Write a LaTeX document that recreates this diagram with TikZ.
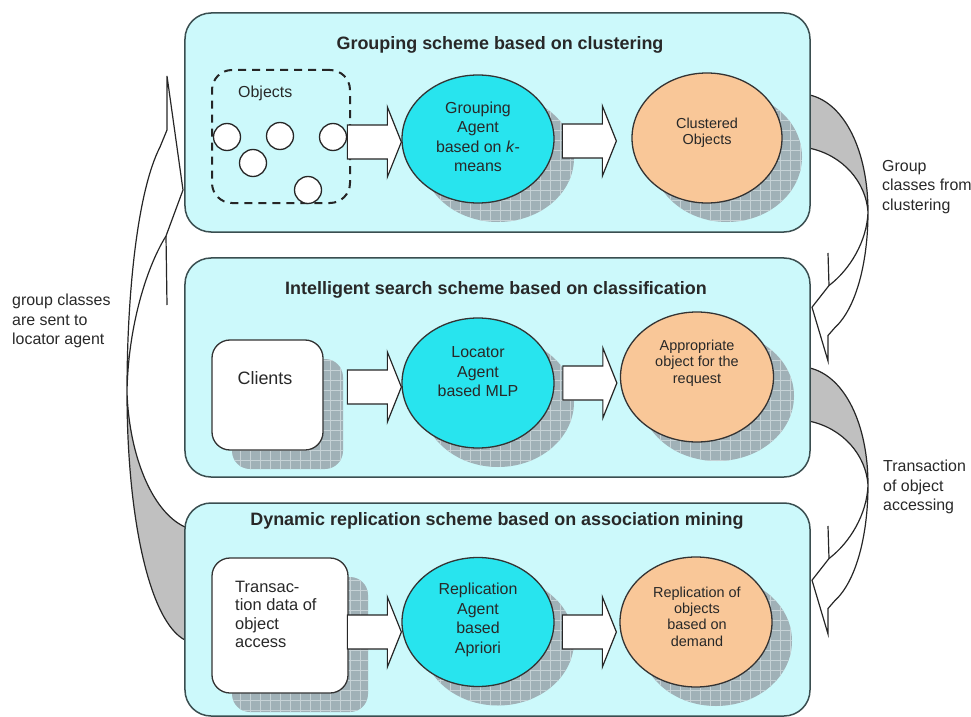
\documentclass[tikz,border=0pt]{standalone}
\usepackage{fontspec}
\setmainfont{Liberation Sans}
\usetikzlibrary{calc,shapes.geometric}

\definecolor{panelfill}{RGB}{204,249,251}
\definecolor{paneledge}{RGB}{58,78,80}
\definecolor{agentfill}{RGB}{40,228,238}
\definecolor{resultfill}{RGB}{249,199,152}
\definecolor{shadowfill}{RGB}{160,177,183}
\definecolor{shadowgrid}{RGB}{198,210,214}
\definecolor{backface}{RGB}{192,192,192}
\definecolor{ink}{RGB}{40,40,40}

% grid-textured drop shadow of an oval centred at #1
\newcommand\ovalshadow[3]{%
  \begin{scope}
    \clip ([shift={(20,19)}]#1) ellipse [x radius=#2bp, y radius=#3bp];
    \fill[shadowfill] ([shift={(-100,-100)}]#1) rectangle ([shift={(130,130)}]#1);
    \draw[shadowgrid, line width=0.7bp, step=10bp] ([shift={(-100,-100)}]#1) grid ([shift={(130,130)}]#1);
  \end{scope}}

% grid-textured drop shadow of a rounded box centred at #1, size #2 x #3
\newcommand\boxshadow[3]{%
  \begin{scope}
    \clip[rounded corners=18bp] ([shift={(20-#2/2,19-#3/2)}]#1) rectangle ([shift={(20+#2/2,19+#3/2)}]#1);
    \fill[shadowfill] ([shift={(-100,-100)}]#1) rectangle ([shift={(130,130)}]#1);
    \draw[shadowgrid, line width=0.7bp, step=10bp] ([shift={(-100,-100)}]#1) grid ([shift={(130,130)}]#1);
  \end{scope}}

% curved ribbon arrow: tail on the right edge at the bottom, head at the top
\newcommand\curvedband{%
  \fill[backface] (185,640) .. controls (150,622) and (127,520) .. (127,392)
        .. controls (129,455) and (152,512) .. (185,527) -- cycle;
  \draw[bandline] (185,640) .. controls (150,622) and (127,520) .. (127,392)
        .. controls (127,290) and (138,190) .. (160,147) -- (167,130) -- (167,76)
        -- (183,190) -- (166,236) .. controls (145,270) and (128,330) .. (127,392)
        .. controls (129,455) and (152,512) .. (185,527);
  \draw[bandline] (166,236) -- (167,305);}

\begin{document}
\begin{tikzpicture}[x=1bp,y=-1bp,
  every node/.style={text=ink},
  panel/.style={draw=paneledge, line width=1.5bp, fill=panelfill, rounded corners=26bp, inner sep=0pt},
  paneltitle/.style={font=\fontsize{18}{22}\selectfont\bfseries, inner sep=0pt},
  agent/.style={ellipse, draw=black!80, line width=1.3bp, fill=agentfill, inner sep=0pt},
  result/.style={ellipse, draw=black!80, line width=1.3bp, fill=resultfill, inner sep=0pt},
  agenttext/.style={align=center, font=\fontsize{16}{19.5}\selectfont, inner sep=0pt},
  resulttext/.style={align=center, font=\fontsize{14.5}{16.5}\selectfont, inner sep=0pt},
  sourcebox/.style={draw=black!80, line width=1.3bp, fill=white, rounded corners=18bp, inner sep=0pt},
  dashedbox/.style={draw=black!85, line width=2bp, dash pattern=on 8bp off 6bp, rounded corners=20bp, inner sep=0pt},
  object/.style={circle, draw=black!85, line width=1.3bp, fill=white, minimum size=27bp, inner sep=0pt},
  sidenote/.style={align=left, anchor=west, inner sep=0pt, font=\fontsize{16}{19.5}\selectfont},
  bandline/.style={draw=black!85, line width=1.2bp},
  blockarrow/.style={draw=black!85, line width=1.2bp, fill=white,
    to path={let \p2=(\tikztotarget) in
      (\x2-54bp,\y2+17bp) -- (\x2-14bp,\y2+17bp) -- (\x2-14bp,\y2+35bp) -- (\x2,\y2)
      -- (\x2-14bp,\y2-35bp) -- (\x2-14bp,\y2-17bp) -- (\x2-54bp,\y2-17bp) -- cycle}}
]
\useasboundingbox (0,0) rectangle (971,717);

% ribbon arrows linking the three schemes
\curvedband
\begin{scope}[shift={(995,396.8)}, xscale=-1, yscale=-0.4715]
  \curvedband
\end{scope}
\begin{scope}[shift={(995,669.8)}, xscale=-1, yscale=-0.4715]
  \curvedband
\end{scope}

% the three scheme panels
\node[panel, minimum width=625bp, minimum height=219bp] (grouping) at (497.5,122.5) {};
\node[panel, minimum width=625bp, minimum height=219bp] (search) at (497.5,367.5) {};
\node[panel, minimum width=625bp, minimum height=213bp] (replication) at (497.5,609.5) {};

\node[paneltitle] (groupingtitle) at (500,45) {Grouping scheme based on clustering};
\node[paneltitle] (searchtitle) at (496,290) {Intelligent search scheme based on classification};
\node[paneltitle] (replicationtitle) at (497,521) {Dynamic replication scheme based on association mining};

% --- grouping scheme
\node[dashedbox, minimum width=138bp, minimum height=133bp] (objects) at (281,136.5) {};
\node[anchor=west, inner sep=0pt, font=\fontsize{16}{19}\selectfont] (objectslabel) at (238,93) {Objects};
\node[object] (o1) at (227,137) {};
\node[object] (o2) at (280,136) {};
\node[object] (o3) at (333,137) {};
\node[object] (o4) at (253,163) {};
\node[object] (o5) at (308,190) {};

\coordinate (a1c) at (478,139);
\ovalshadow{a1c}{76}{64}
\node[agent, minimum width=152bp, minimum height=128bp] (agent1) at (a1c) {};
\node[agenttext] (agent1text) at (478,137) {Grouping\\Agent\\based on \textit{k}-\\means};

\coordinate (r1c) at (707,138);
\ovalshadow{r1c}{75}{65}
\node[result, minimum width=150bp, minimum height=130bp] (result1) at (r1c) {};
\node[resulttext] (result1text) at (707,133) {Clustered\\Objects};

% --- search scheme
\coordinate (clc) at (267.5,395);
\boxshadow{clc}{111}{110}
\node[sourcebox, minimum width=111bp, minimum height=110bp] (clients) at (clc) {};
\node[inner sep=0pt, font=\fontsize{18}{21}\selectfont] (clientstext) at (265,378) {Clients};

\coordinate (a2c) at (478,383);
\ovalshadow{a2c}{76}{65}
\node[agent, minimum width=152bp, minimum height=130bp] (agent2) at (a2c) {};
\node[agenttext] (agent2text) at (478,372) {Locator\\Agent\\based MLP};

\coordinate (r2c) at (697,377);
\ovalshadow{r2c}{77}{65}
\node[result, minimum width=153bp, minimum height=130bp] (result2) at (r2c) {};
\node[resulttext] (result2text) at (697,363) {Appropriate\\object for the\\request};

% --- replication scheme
\coordinate (trc) at (280,625.5);
\boxshadow{trc}{136}{135}
\node[sourcebox, minimum width=136bp, minimum height=135bp] (transaction) at (trc) {};
\node[anchor=west, align=left, inner sep=0pt, font=\fontsize{16.5}{18.5}\selectfont] (transactiontext) at (235,614.5) {Transac-\\tion data of\\object\\access};

\coordinate (a3c) at (478,622);
\ovalshadow{a3c}{76}{64.5}
\node[agent, minimum width=152bp, minimum height=129bp] (agent3) at (a3c) {};
\node[agenttext] (agent3text) at (478,620) {Replication\\Agent\\based\\Apriori};

\coordinate (r3c) at (696,622);
\ovalshadow{r3c}{76}{65}
\node[result, minimum width=152bp, minimum height=130bp] (result3) at (r3c) {};
\node[resulttext] (result3text) at (697,616.5) {Replication of\\objects\\based on\\demand};

% block arrows inside each panel
\draw[blockarrow] (objects) to ([yshift=-3bp]agent1.west);
\draw[blockarrow] (agent1) to ([xshift=-15bp,yshift=-3bp]result1.west);
\draw[blockarrow] (clients) to ([yshift=-4bp]agent2.west);
\draw[blockarrow] (agent2) to ([xshift=-3bp,yshift=-6bp]result2.west);
\draw[blockarrow] (transaction) to ([yshift=-10bp]agent3.west);
\draw[blockarrow] (agent3) to ([xshift=-3bp,yshift=-10bp]result3.west);

% side notes
\node[sidenote] (note1) at (12,321) {group classes\\are sent to\\locator agent};
\node[sidenote] (note2) at (882,187) {Group\\classes from\\clustering};
\node[sidenote] (note3) at (883,487) {Transaction\\of object\\accessing};
\end{tikzpicture}
\end{document}
